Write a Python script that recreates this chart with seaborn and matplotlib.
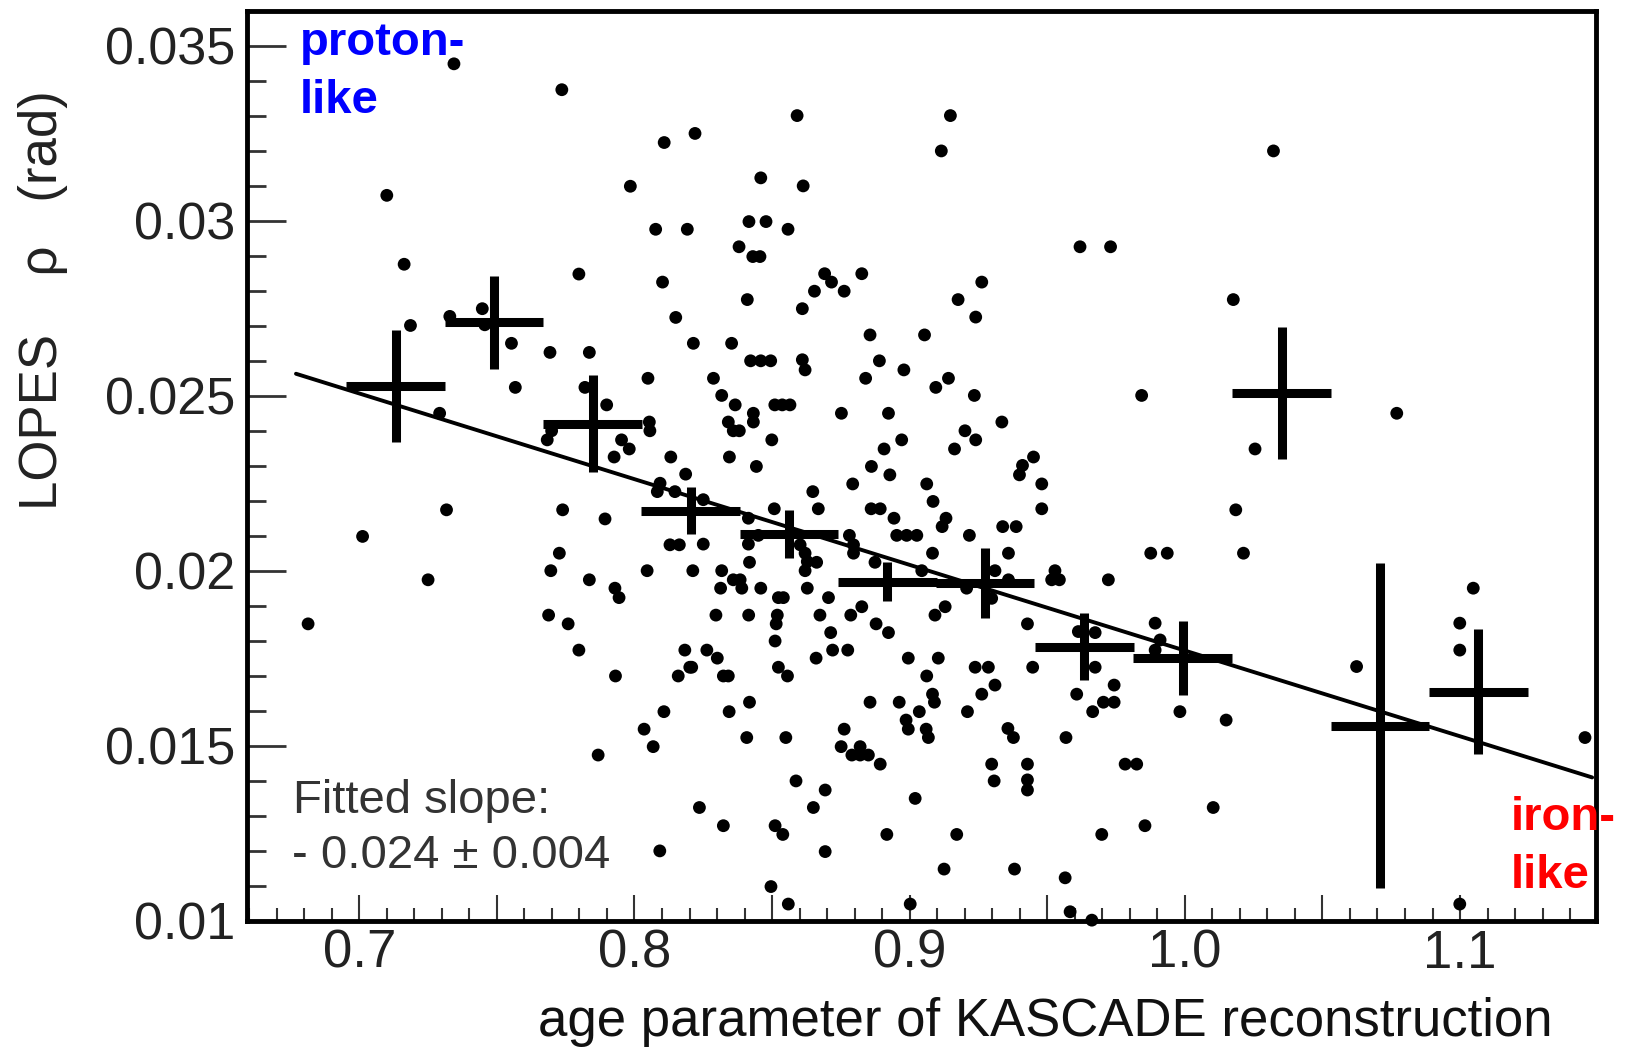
import matplotlib
matplotlib.use("Agg")
import matplotlib.pyplot as plt
from matplotlib.ticker import MultipleLocator, FuncFormatter
import numpy as np
import pandas as pd
import seaborn as sns

# ---------------- data ----------------
age = [
    0.7344, 0.7736, 0.8108, 0.7100, 0.7985, 0.8077, 0.8192, 0.7163, 0.7798, 0.8102,
    0.8220, 0.8591, 0.9148, 0.9115, 0.8459, 0.8613, 0.8416, 0.8478, 0.8558, 0.8380,
    0.8430, 0.8456, 0.8691, 0.8716, 0.8826, 0.8654, 0.8762, 0.8410, 0.9262, 0.9176,
    0.9619, 0.9730, 1.0322, 1.0176,
    0.7329, 0.7447, 0.7456, 0.7186, 0.7553, 0.7693, 0.7836, 0.8150, 0.7567, 0.7820,
    0.8049, 0.7292, 0.7899, 0.8054, 0.8056, 0.7699, 0.7683, 0.7953, 0.7981, 0.7926,
    0.8132, 0.8186, 0.8093, 0.8083, 0.8147, 0.7317, 0.7739, 0.7893, 0.7012, 0.8129,
    0.8163, 0.7727, 0.7696, 0.8046, 0.7250, 0.7836, 0.7929, 0.7944,
    0.8610, 0.9240, 0.8214, 0.8353, 0.8856, 0.9054, 0.8422, 0.8459, 0.8495, 0.8610,
    0.8620, 0.8890, 0.8979, 0.8287, 0.8840, 0.9141, 0.9095, 0.9235, 0.9843, 0.8317,
    0.8366, 0.8510, 0.8537, 0.8565, 0.8432, 0.8432, 0.8341, 0.8359, 0.8381, 0.8752,
    0.8923, 0.9335, 0.9201, 0.9240, 0.8499, 0.8971, 0.8907, 0.9163, 0.8345, 0.8443,
    0.8861, 0.8928, 0.9450, 0.9410, 0.9399, 0.9480, 0.9480, 0.8793, 0.9062, 0.8648,
    0.9085, 0.8668, 0.8860, 0.8893, 0.8943, 0.9132, 0.9118, 0.8250, 0.8508, 0.8414,
    0.9338, 0.9387, 0.8953, 0.8989, 0.9026, 0.9217, 0.8781, 0.8796, 0.8796, 0.8450,
    0.8250, 0.8414, 0.8602, 0.8620, 0.8628, 0.8662, 0.8620, 0.9083, 0.9359, 0.8874,
    0.8418, 0.8212, 0.8317, 0.8359, 0.8384, 0.8390, 0.8313, 0.8459, 0.8628, 0.9044,
    0.9310, 0.9359, 0.9528, 0.9516, 0.9544, 0.9722, 0.9207, 0.9298, 0.8523, 0.8541,
    0.8705,
    1.0770, 1.0255, 1.0185, 0.9876, 0.9936, 1.0213, 1.1048,
    0.6814, 0.7688, 0.7759, 0.7798, 0.7931, 0.8183, 0.8201, 0.8159, 0.8107, 0.8035,
    0.8068, 0.7868, 0.8092,
    0.8296, 0.8415, 0.8519, 0.8515, 0.8511, 0.8674, 0.8786, 0.8826, 0.9092, 0.9129,
    0.8878, 0.8923, 0.8713, 0.8720, 0.8775, 0.8660, 0.8263, 0.8301, 0.8208, 0.8323,
    0.8341, 0.8523, 0.8556, 0.9428, 0.8995, 0.9104, 0.9062, 0.9238, 0.9286, 0.9310,
    0.9262, 0.9447, 0.9607, 0.9674, 0.9674, 0.9613, 0.9743, 0.9704, 0.9743, 0.9665,
    0.9083, 0.9090, 0.8418, 0.8344, 0.8856, 0.8962, 0.9035, 0.8987, 0.8995, 0.9060,
    0.9068, 0.9210, 0.8762, 0.8408, 0.8550, 0.9357, 0.9377, 0.9568, 0.8751, 0.8790,
    0.8820, 0.8820, 0.8850, 0.8893, 0.9298, 0.9307, 0.9428, 0.9428, 0.9428, 0.9783,
    0.9825, 0.8587, 0.8693, 0.8236, 0.8650, 0.9020, 0.8323, 0.8511, 0.8539, 0.8917,
    0.9171, 0.9698, 0.8693, 0.9125, 0.9381, 0.9565, 0.8496, 0.8559, 0.9002, 0.9583,
    0.9662,
    0.9892, 0.9910, 0.9892, 0.9982, 1.0150, 0.9855, 1.0103, 1.0624, 1.0999, 1.0999,
    1.1454, 1.0999,
]
rho = [
    0.03449, 0.03375, 0.03224, 0.03073, 0.03099, 0.02976, 0.02976, 0.02876, 0.02848, 0.02825,
    0.03250, 0.03301, 0.03301, 0.03200, 0.03123, 0.03100, 0.02998, 0.02998, 0.02976, 0.02926,
    0.02898, 0.02898, 0.02849, 0.02825, 0.02849, 0.02799, 0.02799, 0.02775, 0.02825, 0.02775,
    0.02926, 0.02926, 0.03200, 0.02775,
    0.02727, 0.02749, 0.02703, 0.02701, 0.02650, 0.02624, 0.02624, 0.02724, 0.02524, 0.02524,
    0.02550, 0.02450, 0.02474, 0.02425, 0.02400, 0.02400, 0.02374, 0.02374, 0.02348, 0.02325,
    0.02325, 0.02276, 0.02250, 0.02226, 0.02226, 0.02174, 0.02174, 0.02148, 0.02098, 0.02074,
    0.02074, 0.02050, 0.02000, 0.02000, 0.01974, 0.01974, 0.01950, 0.01923,
    0.02749, 0.02725, 0.02650, 0.02650, 0.02674, 0.02674, 0.02600, 0.02600, 0.02600, 0.02603,
    0.02574, 0.02600, 0.02574, 0.02550, 0.02550, 0.02550, 0.02524, 0.02501, 0.02501, 0.02501,
    0.02474, 0.02474, 0.02474, 0.02474, 0.02450, 0.02425, 0.02425, 0.02400, 0.02400, 0.02450,
    0.02450, 0.02425, 0.02400, 0.02374, 0.02374, 0.02374, 0.02348, 0.02348, 0.02325, 0.02298,
    0.02298, 0.02274, 0.02325, 0.02301, 0.02274, 0.02248, 0.02177, 0.02248, 0.02248, 0.02226,
    0.02198, 0.02177, 0.02177, 0.02177, 0.02150, 0.02150, 0.02126, 0.02203, 0.02177, 0.02150,
    0.02126, 0.02126, 0.02101, 0.02101, 0.02101, 0.02101, 0.02101, 0.02074, 0.02050, 0.02101,
    0.02076, 0.02076, 0.02074, 0.02050, 0.02026, 0.02024, 0.02000, 0.02050, 0.02050, 0.02024,
    0.02024, 0.02000, 0.02000, 0.01974, 0.01974, 0.01950, 0.01950, 0.01950, 0.01950, 0.02000,
    0.02000, 0.01974, 0.02000, 0.01974, 0.01974, 0.01974, 0.01950, 0.01921, 0.01923, 0.01923,
    0.01923,
    0.02450, 0.02348, 0.02174, 0.02050, 0.02050, 0.02050, 0.01950,
    0.01848, 0.01873, 0.01848, 0.01773, 0.01699, 0.01773, 0.01724, 0.01699, 0.01597, 0.01547,
    0.01497, 0.01473, 0.01199,
    0.01873, 0.01873, 0.01873, 0.01848, 0.01799, 0.01873, 0.01873, 0.01897, 0.01873, 0.01897,
    0.01848, 0.01823, 0.01823, 0.01773, 0.01773, 0.01750, 0.01773, 0.01750, 0.01724, 0.01699,
    0.01699, 0.01724, 0.01699, 0.01848, 0.01750, 0.01750, 0.01699, 0.01724, 0.01724, 0.01673,
    0.01647, 0.01724, 0.01647, 0.01823, 0.01724, 0.01826, 0.01673, 0.01624, 0.01624, 0.01597,
    0.01647, 0.01624, 0.01624, 0.01597, 0.01624, 0.01624, 0.01597, 0.01573, 0.01547, 0.01547,
    0.01523, 0.01597, 0.01547, 0.01523, 0.01523, 0.01549, 0.01523, 0.01523, 0.01497, 0.01473,
    0.01497, 0.01473, 0.01473, 0.01447, 0.01447, 0.01399, 0.01447, 0.01402, 0.01373, 0.01447,
    0.01447, 0.01399, 0.01373, 0.01323, 0.01323, 0.01349, 0.01271, 0.01271, 0.01246, 0.01246,
    0.01246, 0.01246, 0.01197, 0.01147, 0.01147, 0.01122, 0.01097, 0.01047, 0.01047, 0.01025,
    0.01001,
    0.01850, 0.01802, 0.01773, 0.01597, 0.01573, 0.01271, 0.01323, 0.01726, 0.01850, 0.01773,
    0.01523, 0.01047,
]

# profile (binned means) with bin half-widths and errors
prof_age = [0.7132, 0.7489, 0.7848, 0.8204, 0.8562, 0.8919, 0.9274, 0.9635, 0.9992, 1.0352, 1.0709, 1.1067]
prof_rho = [0.02528, 0.02710, 0.02420, 0.02171, 0.02104, 0.01969, 0.01964, 0.01783, 0.01750, 0.02507, 0.01557, 0.01654]
prof_rho_err = [0.00160, 0.00133, 0.00138, 0.00067, 0.00069, 0.00055, 0.00100, 0.00095, 0.00105, 0.00189, 0.00465, 0.00178]
prof_age_err = [0.0179] * 12

# fitted straight line end points
fit_age = [0.677, 1.148]
fit_rho = [0.02563, 0.01409]

# ---------------- figure ----------------
sns.set_theme(style="ticks")
plt.rcParams["font.family"] = ["Liberation Sans", "DejaVu Sans"]

W, H = 1628, 1048
fig = plt.figure(figsize=(W / 100, H / 100), dpi=100)
ax_l, ax_r, ax_t, ax_b = 247, 1596, 11, 920.5
ax = fig.add_axes([ax_l / W, 1 - ax_b / H, (ax_r - ax_l) / W, (ax_b - ax_t) / H])

df = pd.DataFrame({"age": age, "rho": rho})
sns.scatterplot(data=df, x="age", y="rho", ax=ax, s=85, color="black",
                edgecolor="none", linewidth=0, clip_on=False, zorder=3, legend=False)
sns.lineplot(x=fit_age, y=fit_rho, ax=ax, color="black", linewidth=2.8, zorder=4)
ax.errorbar(prof_age, prof_rho, xerr=prof_age_err, yerr=prof_rho_err, fmt="none",
            ecolor="black", elinewidth=6.5, capsize=0, zorder=5)

ax.set_xlim(0.6592, 1.1494)
ax.set_ylim(0.01, 0.0360)

ax.xaxis.set_major_locator(MultipleLocator(0.05))
ax.xaxis.set_minor_locator(MultipleLocator(0.01))
ax.yaxis.set_major_locator(MultipleLocator(0.005))
ax.yaxis.set_minor_locator(MultipleLocator(0.001))


def xfmt(v, pos):
    k = int(round(v * 20))
    return f"{v:.1f}" if k % 2 == 0 else ""


def yfmt(v, pos):
    return f"{v:g}"


ax.xaxis.set_major_formatter(FuncFormatter(xfmt))
ax.yaxis.set_major_formatter(FuncFormatter(yfmt))

ax.tick_params(axis="x", which="major", direction="in", length=18.7, width=1.5,
               labelsize=38, pad=6, color="#333333", labelcolor="#222222")
ax.tick_params(axis="x", which="minor", direction="in", length=9.4, width=1.5, color="#333333")
ax.tick_params(axis="y", which="major", direction="in", length=28, width=2,
               labelsize=37.5, pad=8.6, color="#333333", labelcolor="#222222")
ax.tick_params(axis="y", which="minor", direction="in", length=14, width=2, color="#333333")

for sp in ax.spines.values():
    sp.set_visible(True)
    sp.set_linewidth(3.5)
    sp.set_color("black")

ax.set_xlabel("age parameter of KASCADE reconstruction", fontsize=38, color="#111111")
ax.xaxis.set_label_coords((1045 - ax_l) / (ax_r - ax_l), (ax_b - 1036) / (ax_b - ax_t))
ax.xaxis.label.set_va("baseline")
ax.set_ylabel("LOPES    ρ   (rad)", fontsize=38, color="#222222")
ax.yaxis.set_label_coords((43 - ax_l) / (ax_r - ax_l), (ax_b - 300) / (ax_b - ax_t))
ax.yaxis.label.set_va("center")


def ftext(px, py, s, **kw):
    fig.text(px / W, 1 - py / H, s, ha="left", va="baseline", **kw)


ftext(300, 55, "proton-", fontsize=34, fontweight="bold", color="#0000FF")
ftext(300, 113, "like", fontsize=34, fontweight="bold", color="#0000FF")
ftext(1511, 830, "iron-", fontsize=34, fontweight="bold", color="#FF0000")
ftext(1511, 888, "like", fontsize=34, fontweight="bold", color="#FF0000")
ftext(293, 813, "Fitted slope:", fontsize=34, color="#333333")
ftext(292, 868, "- 0.024 ± 0.004", fontsize=34, color="#333333")

fig.savefig("out.png", dpi=100)
